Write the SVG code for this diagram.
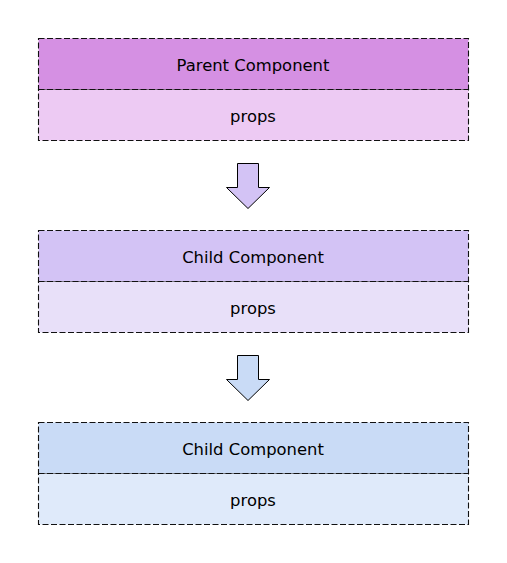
<svg xmlns="http://www.w3.org/2000/svg" width="507" height="563" viewBox="0 0 507 563">
<style>
.box{stroke:#111;stroke-width:1.1;stroke-dasharray:6,2.5}
.lbl{font-family:"DejaVu Sans","Liberation Sans",sans-serif;font-size:16.4px;fill:#000;text-anchor:middle}
.arr{stroke:#000;stroke-width:1}
</style>
<rect width="507" height="563" fill="#fff"/>
<g id="parent">
<rect class="box" x="38.5" y="38.5" width="430" height="51" fill="#d590e3"/>
<rect class="box" x="38.5" y="89.5" width="430" height="51" fill="#edcaf3"/>
<text class="lbl" x="253" y="70.5">Parent Component</text>
<text class="lbl" x="253" y="121.5">props</text>
</g>
<g id="child1">
<rect class="box" x="38.5" y="230.5" width="430" height="51" fill="#d3c3f5"/>
<rect class="box" x="38.5" y="281.5" width="430" height="51" fill="#e8e0f9"/>
<text class="lbl" x="253" y="262.5">Child Component</text>
<text class="lbl" x="253" y="313.5">props</text>
</g>
<g id="child2">
<rect class="box" x="38.5" y="422.5" width="430" height="51" fill="#c9dbf6"/>
<rect class="box" x="38.5" y="473.5" width="430" height="51" fill="#dfeafa"/>
<text class="lbl" x="253" y="454.5">Child Component</text>
<text class="lbl" x="253" y="505.5">props</text>
</g>
<g id="connectors">
<polygon class="arr" fill="#d3c3f5" points="237.5,163.5 258.5,163.5 258.5,187.5 269.5,187.5 248,208.5 226.5,187.5 237.5,187.5"/>
<polygon class="arr" fill="#c9dbf6" points="237.5,355.5 258.5,355.5 258.5,379.5 269.5,379.5 248,400.5 226.5,379.5 237.5,379.5"/>
</g>
</svg>
